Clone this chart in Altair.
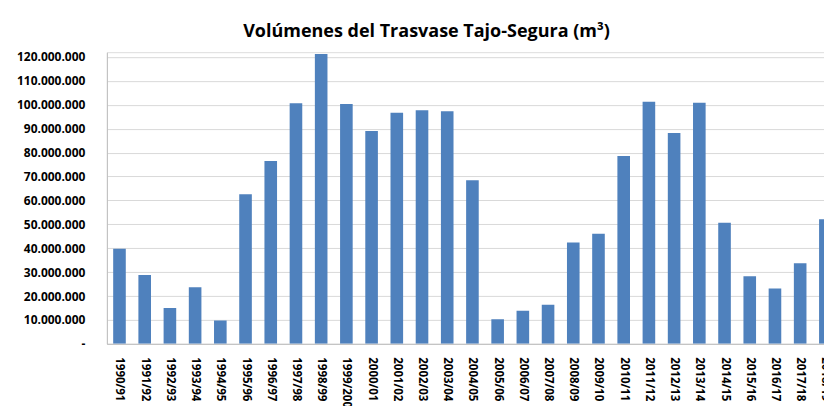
import altair as alt
import pandas as pd

seasons = ["1990/91", "1991/92", "1992/93", "1993/94", "1994/95", "1995/96", "1996/97",
           "1997/98", "1998/99", "1999/2000", "2000/01", "2001/02", "2002/03", "2003/04",
           "2004/05", "2005/06", "2006/07", "2007/08", "2008/09", "2009/10", "2010/11",
           "2011/12", "2012/13", "2013/14", "2014/15", "2015/16", "2016/17", "2017/18",
           "2018/19"]
volumes = [39.8, 28.8, 15.0, 23.7, 9.8, 62.6, 76.5, 100.6, 121.2, 100.3, 89.0, 96.7,
           97.7, 97.3, 68.4, 10.3, 13.8, 16.4, 42.4, 46.0, 78.6, 101.3, 88.2, 100.8,
           50.7, 28.3, 23.1, 33.7, 52.1]
volumes = [v * 1_000_000 for v in volumes]
y_ticks = [i * 10_000_000 for i in range(13)]

df = pd.DataFrame({"temporada": seasons, "volumen": volumes})

FONT = "Open Sans"

chart = alt.Chart(df).mark_bar(color="#4F81BD", clip=True).encode(
    x=alt.X("temporada:N", sort=seasons, title=None,
            scale=alt.Scale(range=[0, 732], paddingInner=0.5, paddingOuter=0.25),
            axis=alt.Axis(labelAngle=90, labelAlign="left", labelBaseline="middle",
                          labelFont=FONT, labelFontWeight="bold", labelFontSize=11.5,
                          labelColor="#000000", labelPadding=13, ticks=False,
                          domainColor="#BFBFBF", labelOverlap=False, grid=False)),
    y=alt.Y("volumen:Q", title=None,
            scale=alt.Scale(domain=[0, 122_000_000], nice=False),
            axis=alt.Axis(values=y_ticks, format=",d",
                          labelExpr="datum.value == 0 ? '-' : datum.label",
                          labelFont=FONT, labelFontWeight="bold", labelFontSize=12,
                          labelColor="#000000", labelPadding=22, ticks=False,
                          domainColor="#BFBFBF", gridColor="#D9D9D9", gridWidth=1)),
).properties(
    width=718,
    height=292,
    title=alt.TitleParams("Volúmenes del Trasvase Tajo-Segura (m³)", font=FONT,
                          fontSize=18, fontWeight="bold", color="#000000",
                          anchor="middle", dx=-39, dy=20, offset=16, baseline="alphabetic"),
    autosize=alt.AutoSizeParams(type="none"),
    padding={"left": 99, "top": 44, "right": 0, "bottom": 62},
).configure_view(stroke=None).configure(
    locale={"number": {"decimal": ",", "thousands": ".", "grouping": [3],
                       "currency": ["", " €"]}}
)

chart.save("out.html", embed_options={"renderer": "svg", "actions": False})
